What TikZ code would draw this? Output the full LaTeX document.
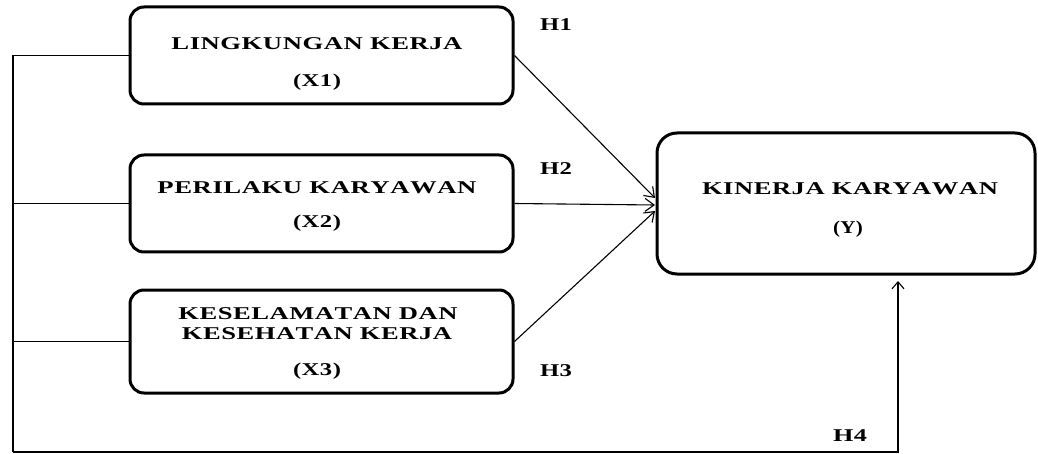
\documentclass[tikz,border=0pt]{standalone}
\usepackage{fontspec}
\usepackage{graphicx}
\setmainfont{Liberation Serif}[LetterSpace=2,Kerning=Off]
\usetikzlibrary{arrows.meta}
\newcommand{\fw}[2]{\resizebox{#1pt}{\height}{#2}}
\tikzset{
  xbox/.style={draw, line width=3pt, rounded corners=14pt, minimum width=383pt, minimum height=97pt, inner sep=0pt},
  ybox/.style={draw, line width=3pt, rounded corners=20pt, minimum width=378pt, minimum height=141pt, inner sep=0pt},
  txt/.style={inner sep=0pt, anchor=base, font=\bfseries\fontsize{18}{20}\selectfont},
  conn/.style={line width=1.1pt},
  arr/.style={conn, -{Straight Barb[length=9pt,width=13pt,line width=1.1pt]}},
  uparr/.style={conn, -{Straight Barb[length=7pt,width=12pt,line width=1.1pt]}}
}
\begin{document}
\begin{tikzpicture}[x=1pt,y=-1pt]
\useasboundingbox (0,0) rectangle (1038,454);
% boxes
\node[xbox] (x1) at (321.5,55.5) {};
\node[xbox] (x2) at (321.5,203.5) {};
\node[xbox, minimum height=103pt] (x3) at (321.5,341.5) {};
\node[ybox] (y) at (846,203.5) {};
% texts
\node[txt] (x1a) at (317,49.5) {\fw{291}{LINGKUNGAN KERJA}};
\node[txt] (x1b) at (317,87) {\fw{48}{(X1)}};
\node[txt] (x2a) at (317,194) {\fw{319}{PERILAKU KARYAWAN}};
\node[txt] (x2b) at (317,228) {\fw{48}{(X2)}};
\node[txt] (x3a) at (318,319) {\fw{279}{KESELAMATAN DAN}};
\node[txt] (x3b) at (317,339) {\fw{270}{KESEHATAN KERJA}};
\node[txt] (x3c) at (317,375) {\fw{48}{(X3)}};
\node[txt] (ya) at (850,194.5) {\fw{296}{KINERJA KARYAWAN}};
\node[txt] (yb) at (848,234) {\fw{30}{(Y)}};
% hypothesis labels
\node[txt] (h1) at (556,31) {\fw{32}{H1}};
\node[txt] (h2) at (556,175) {\fw{32}{H2}};
\node[txt] (h3) at (556,376) {\fw{32}{H3}};
\node[txt] (h4) at (850,441) {\fw{34}{H4}};
% arrow tips and corner points
\coordinate (t1) at (655,198);
\coordinate (t2) at (655,205);
\coordinate (t3) at (655,211);
\coordinate (bl) at (13,452);
\coordinate (br) at (898,452);
\coordinate (t4) at (898,281);
% connectors
\draw[arr] (x1.east) -- (t1);
\draw[arr] (x2.east) -- (t2);
\draw[arr] (x3.east) -- (t3);
\draw[conn] (x1.west) -- (x1.west -| bl);
\draw[conn] (x2.west) -- (x2.west -| bl);
\draw[conn] (x3.west) -- (x3.west -| bl);
\draw[conn, line width=1.6pt] (x1.west -| bl) -- (bl);
\draw[uparr] (bl) -- (br) -- (t4);
\end{tikzpicture}
\end{document}
